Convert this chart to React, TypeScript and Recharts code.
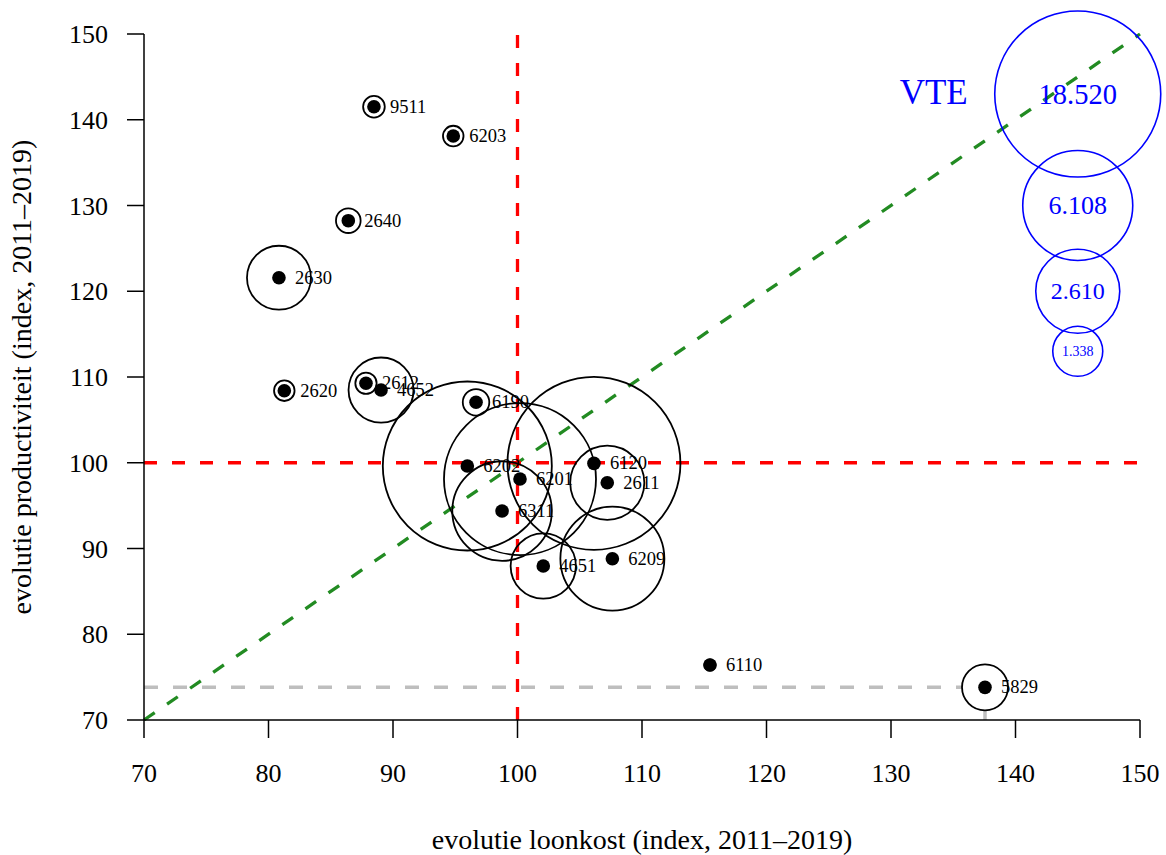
import React from 'react'
import { ScatterChart, Scatter, XAxis, YAxis, ReferenceLine, Label } from 'recharts'

// ─── Data ─────────────────────────────────────────────────────────────────────

const SECTORS = ['9511', '6203', '2640', '2630', '2620', '2612', '4652', '6190', '6202', '6201', '6311', '6120', '2611', '4651', '6209', '6110', '5829']
const LOONKOST = [88.47, 94.84, 86.41, 80.84, 81.27, 87.83, 89.04, 96.67, 95.97, 100.2, 98.76, 106.14, 107.21, 102.07, 107.62, 115.46, 137.55]
const PRODUCTIVITEIT = [141.52, 138.1, 128.23, 121.58, 108.4, 109.27, 108.48, 107.05, 99.62, 98.1, 94.37, 99.93, 97.67, 87.96, 88.81, 76.41, 73.81]
const VTE = [580, 550, 660, 1860, 550, 570, 1900, 710, 19190, 15420, 4700, 20070, 2240, 1910, 5300, 300, 1230]

const LEGEND_VTE = [18520, 6108, 2610, 1338]
const LEGEND_LABELS = ['18.520', '6.108', '2.610', '1.338']
const LEGEND_X = 145
const LEGEND_Y = [143, 130, 120, 113]

const TICKS = [70, 80, 90, 100, 110, 120, 130, 140, 150]
const HIGHLIGHT = '5829'

// ─── Bubble size scale (VTE -> px radius), anchored on the legend bubbles ─────

const SIZE_DOMAIN = [0, 1338, 2610, 6108, 18520]
const SIZE_RANGE = [0, 25, 42, 55, 83]

function radius(v: number): number {
  for (let i = 1; i < SIZE_DOMAIN.length; i++) {
    if (v <= SIZE_DOMAIN[i] || i === SIZE_DOMAIN.length - 1) {
      const d0 = SIZE_DOMAIN[i - 1]
      const d1 = SIZE_DOMAIN[i]
      const r0 = SIZE_RANGE[i - 1]
      const r1 = SIZE_RANGE[i]
      return r0 + ((v - d0) / (d1 - d0)) * (r1 - r0)
    }
  }
  return 0
}

const FONT = '"Liberation Serif", "DejaVu Serif", serif'
const LEGEND_FONT = [28.5, 26, 24, 14]

const points = SECTORS.map((name, i) => ({
  name,
  x: LOONKOST[i],
  y: PRODUCTIVITEIT[i],
  vte: VTE[i],
}))

const legend = LEGEND_VTE.map((vte, i) => ({
  x: LEGEND_X,
  y: LEGEND_Y[i],
  vte,
  label: LEGEND_LABELS[i],
  idx: i,
}))

const hi = points.find((p) => p.name === HIGHLIGHT)!

// ─── Shapes ───────────────────────────────────────────────────────────────────

function PointShape(props: any) {
  const { cx, cy, payload } = props
  const r = radius(payload.vte)
  return (
    <g>
      <circle
        cx={cx}
        cy={cy}
        r={r}
        fill={payload.name === HIGHLIGHT ? '#fff' : 'none'}
        stroke="#000"
        strokeWidth={1.8}
      />
      <circle cx={cx} cy={cy} r={6.8} fill="#000" />
      <text
        x={cx + 16}
        y={cy}
        dominantBaseline="central"
        fontSize={18.5}
        fontFamily={FONT}
        fill="#000"
      >
        {payload.name}
      </text>
    </g>
  )
}

function LegendShape(props: any) {
  const { cx, cy, payload } = props
  const r = radius(payload.vte)
  return (
    <g>
      <circle cx={cx} cy={cy} r={r} fill="none" stroke="#0000ff" strokeWidth={1.6} />
      <text
        x={cx}
        y={cy}
        textAnchor="middle"
        dominantBaseline="central"
        fontSize={LEGEND_FONT[payload.idx]}
        fontFamily={FONT}
        fill="#0000ff"
      >
        {payload.label}
      </text>
      {payload.idx === 0 && (
        <text
          x={cx - r - 27}
          y={cy - 2}
          textAnchor="end"
          dominantBaseline="central"
          fontSize={35}
          fontFamily={FONT}
          fill="#0000ff"
        >
          VTE
        </text>
      )}
    </g>
  )
}

function XTitle(props: any) {
  const vb = props.viewBox
  return (
    <text x={vb.x + vb.width / 2} y={vb.y + 129} textAnchor="middle" fontSize={28} fontFamily={FONT} fill="#000">
      evolutie loonkost (index, 2011–2019)
    </text>
  )
}

function YTitle(props: any) {
  const vb = props.viewBox
  const cx = 31
  const cy = vb.y + vb.height / 2
  return (
    <text
      x={cx}
      y={cy}
      transform={`rotate(-90 ${cx} ${cy})`}
      textAnchor="middle"
      fontSize={28}
      fontFamily={FONT}
      fill="#000"
    >
      evolutie productiviteit (index, 2011–2019)
    </text>
  )
}

// ─── Chart ────────────────────────────────────────────────────────────────────

export default function App() {
  const axisStyle = { stroke: '#000', strokeWidth: 1.5 }
  const tickStyle = { fill: '#000', fontSize: 26, fontFamily: FONT }
  return (
    <div style={{ position: 'absolute', left: 0, top: 0, width: 1166, height: 855, background: '#fff' }}>
      <ScatterChart width={1166} height={855} margin={{ top: 34, right: 26, bottom: 0, left: 0 }}>
        <XAxis
          type="number"
          dataKey="x"
          domain={[70, 150]}
          ticks={TICKS}
          interval={0}
          height={135}
          tickSize={18}
          tickMargin={26}
          axisLine={axisStyle}
          tickLine={axisStyle}
          tick={tickStyle}
        >
          <Label content={XTitle} />
        </XAxis>
        <YAxis
          type="number"
          dataKey="y"
          domain={[70, 150]}
          ticks={TICKS}
          interval={0}
          width={144}
          tickSize={17}
          tickMargin={19}
          axisLine={axisStyle}
          tickLine={axisStyle}
          tick={tickStyle}
        >
          <Label content={YTitle} />
        </YAxis>

        <ReferenceLine
          segment={[{ x: 70, y: 70 }, { x: 150, y: 150 }]}
          stroke="#228b22"
          strokeWidth={3.3}
          strokeDasharray="13 15"
        />
        <ReferenceLine x={100} stroke="#ff0000" strokeWidth={3.3} strokeDasharray="13 15" />
        <ReferenceLine y={100} stroke="#ff0000" strokeWidth={3.3} strokeDasharray="13 15" />
        <ReferenceLine
          segment={[{ x: 70, y: hi.y }, { x: hi.x, y: hi.y }]}
          stroke="#bebebe"
          strokeWidth={3.5}
          strokeDasharray="14 15"
        />
        <ReferenceLine
          segment={[{ x: hi.x, y: 70 }, { x: hi.x, y: hi.y }]}
          stroke="#bebebe"
          strokeWidth={3.5}
          strokeDasharray="14 15"
        />

        <Scatter data={legend} shape={LegendShape} isAnimationActive={false} />
        <Scatter data={points} shape={PointShape} isAnimationActive={false} />
      </ScatterChart>
    </div>
  )
}
